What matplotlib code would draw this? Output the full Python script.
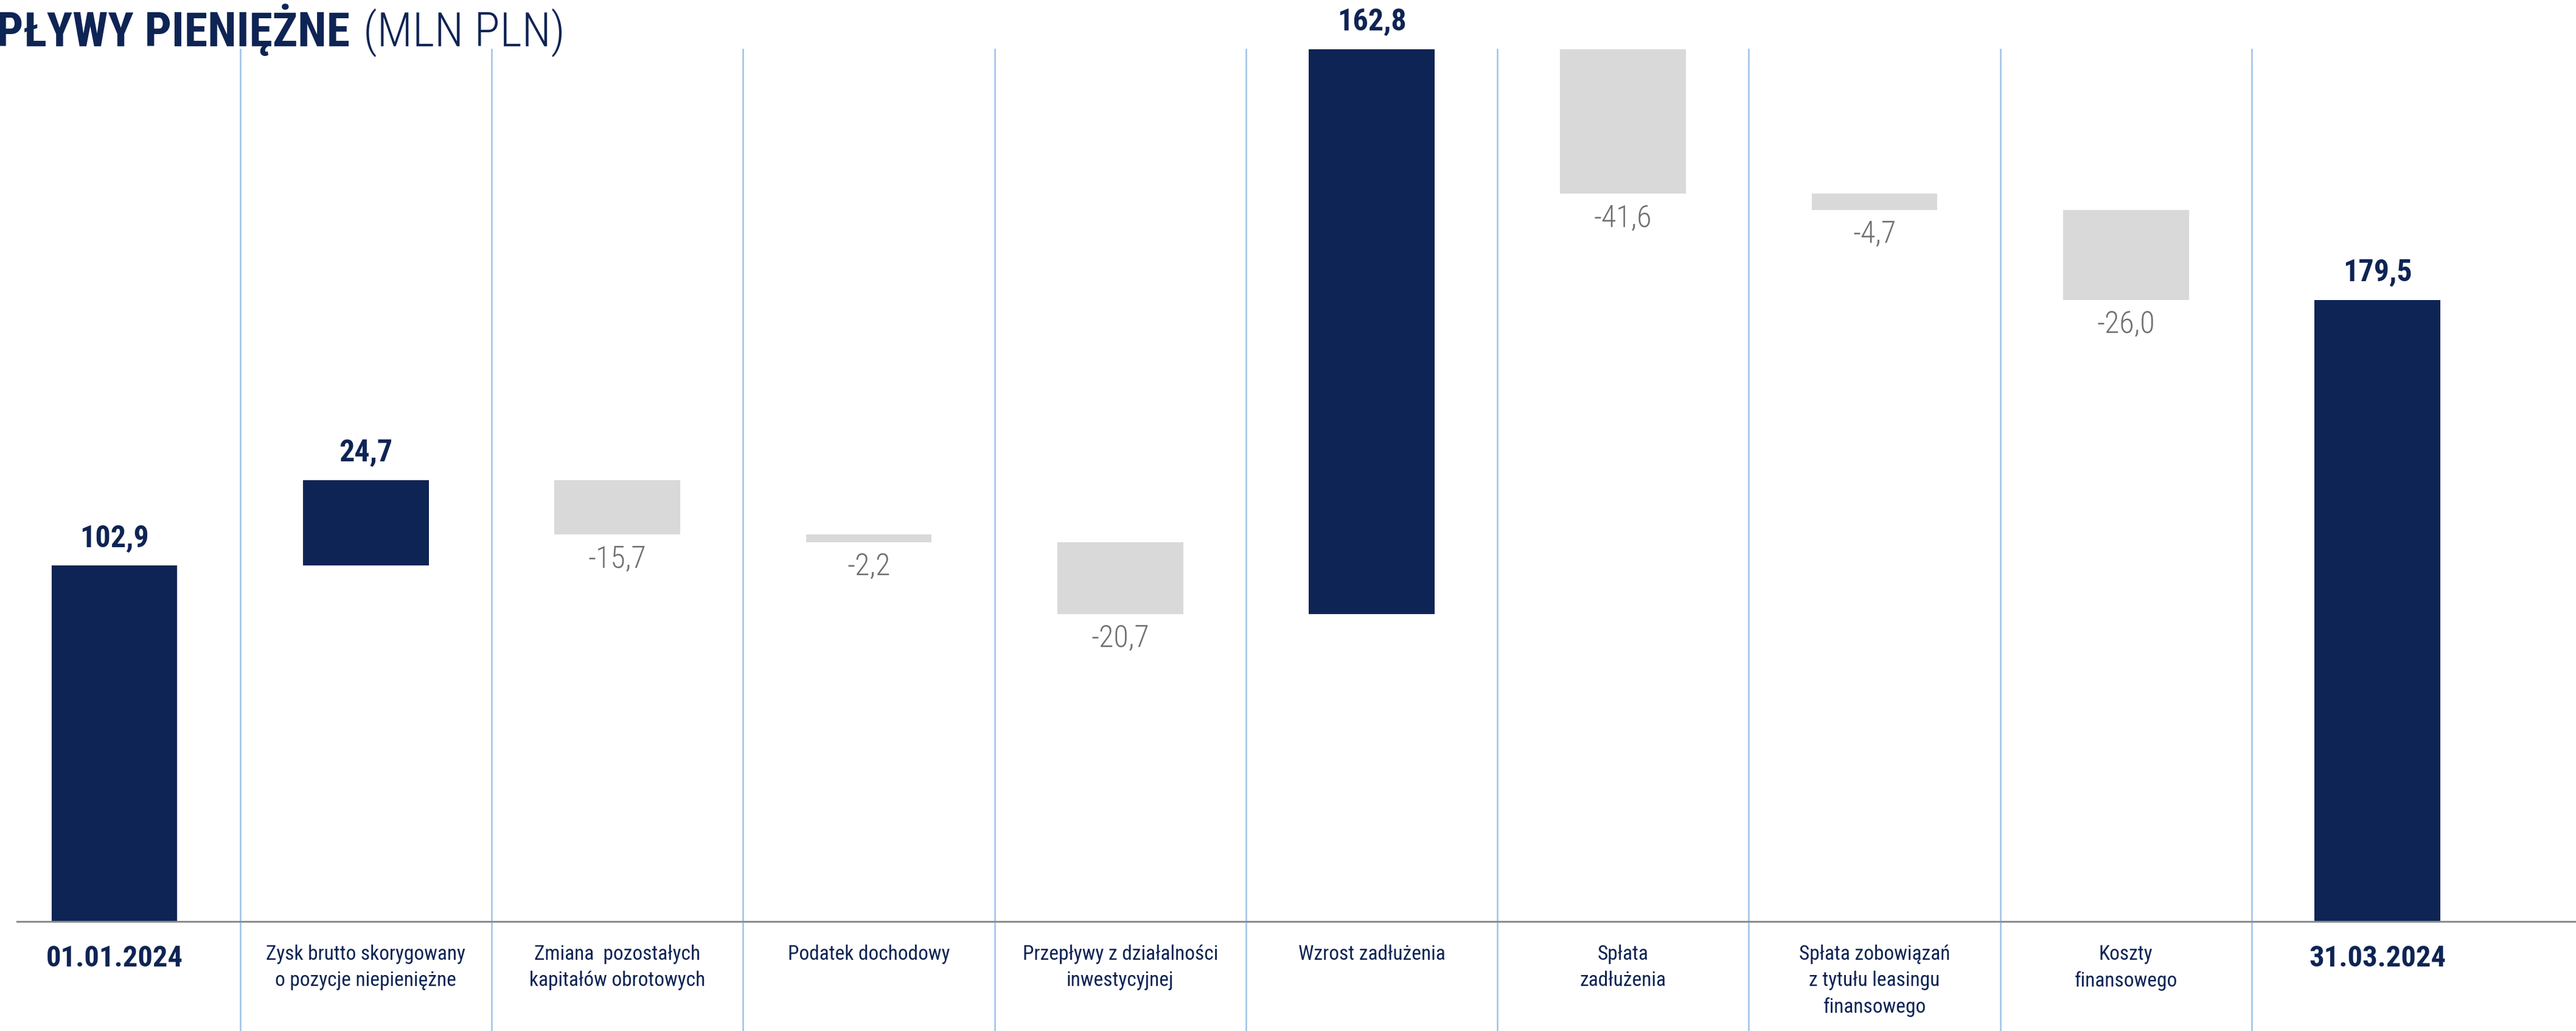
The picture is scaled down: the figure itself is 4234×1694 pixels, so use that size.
import matplotlib
matplotlib.use("Agg")
import matplotlib.pyplot as plt
from matplotlib import font_manager
import numpy as np

# przepływy pieniężne Q1 2024, mln PLN
categories = [
    "01.01.2024",
    "Zysk brutto skorygowany\no pozycje niepieniężne",
    "Zmiana  pozostałych\nkapitałów obrotowych",
    "Podatek dochodowy",
    "Przepływy z działalności\ninwestycyjnej",
    "Wzrost zadłużenia",
    "Spłata\nzadłużenia",
    "Spłata zobowiązań\nz tytułu leasingu\nfinansowego",
    "Koszty\nfinansowego",
    "31.03.2024",
]
values = [102.9, 24.7, -15.7, -2.2, -20.7, 162.8, -41.6, -4.7, -26.0, 179.5]
is_total = [True, False, False, False, False, False, False, False, False, True]

NAVY = "#0E2454"
GREY_BAR = "#D9D9D9"
GREY_TXT = "#6F6F6F"

installed = {f.name for f in font_manager.fontManager.ttflist}
narrow = [n for n in ["Roboto Condensed", "Open Sans Condensed", "Liberation Sans Narrow",
                      "Roboto", "DejaVu Sans"] if n in installed]
plt.rcParams["font.family"] = narrow

# początek i koniec każdego słupka
bottoms, tops = [], []
running = 0.0
for v, tot in zip(values, is_total):
    if tot:
        bottoms.append(0.0)
        tops.append(v)
        running = v
    else:
        start = running
        running = running + v
        bottoms.append(min(start, running))
        tops.append(max(start, running))
bottoms = np.array(bottoms)
tops = np.array(tops)

fig = plt.figure(figsize=(42.34, 16.94), dpi=100)
ax = fig.add_axes([10 / 1568, 1 - 561 / 627, 1 - 10 / 1568, (561 - 30) / 627])

x = np.arange(len(values))
colors = [NAVY if (tot or v > 0) else GREY_BAR for v, tot in zip(values, is_total)]
ax.bar(x, tops - bottoms, bottom=bottoms, width=0.5, color=colors, zorder=3)

ax.set_xlim(-0.39, 9.79)
ax.set_ylim(0, tops.max())

# pionowe separatory między kategoriami
for xs in x[:-1] + 0.5:
    ax.axvline(xs, ymin=-0.2, ymax=1.0, color="#9CC2E8", lw=1.8,
               clip_on=False, zorder=1)

ax.axhline(0, color="#8C8C8C", lw=5, zorder=4)

for xi, v, b, t, tot in zip(x, values, bottoms, tops, is_total):
    txt = f"{v:.1f}".replace(".", ",")
    if tot or v > 0:
        ax.annotate(txt, (xi, t), xytext=(0, 15), textcoords="offset points",
                    ha="center", va="bottom", fontsize=36, fontweight="bold",
                    color=NAVY)
    else:
        ax.annotate(txt, (xi, b), xytext=(0, -12), textcoords="offset points",
                    ha="center", va="top", fontsize=36, fontweight="light",
                    color=GREY_TXT)

ax.set_xticks(x)
ax.set_xticklabels(categories, fontsize=24, color=NAVY, linespacing=1.45)
ax.tick_params(axis="x", length=0, pad=26)
for lbl, tot in zip(ax.get_xticklabels(), is_total):
    if tot:
        lbl.set_fontweight("bold")
        lbl.set_fontsize(35)
ax.set_yticks([])
for s in ax.spines.values():
    s.set_visible(False)

fig.text(213 / 1568, 1 - 28 / 627, "PRZEPŁYWY PIENIĘŻNE", ha="right",
         va="baseline", fontsize=56, fontweight="bold", color=NAVY)
fig.text(221 / 1568, 1 - 28 / 627, "(MLN PLN)", ha="left",
         va="baseline", fontsize=56, fontweight="light", color=NAVY)

fig.savefig("out.png", dpi=100)
